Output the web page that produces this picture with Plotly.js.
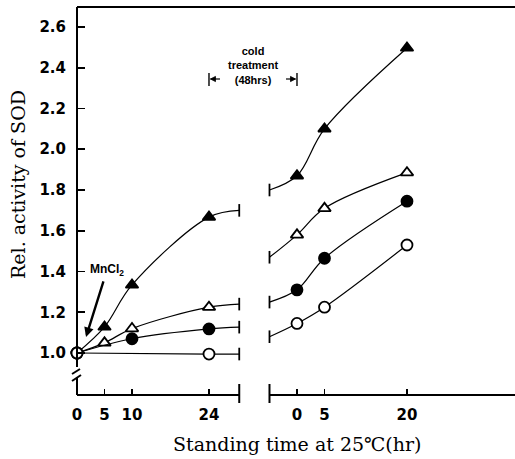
<!DOCTYPE html>
<html><head><meta charset="utf-8">
<script src="https://cdn.plot.ly/plotly-3.0.1.min.js"></script>
<style>html,body{margin:0;padding:0;background:#fff}#chart{width:515px;height:459px}</style>
</head><body><div id="chart"></div>
<script>
// ---- data ----
const leftTickHours = [0, 5, 10, 24];
const rightTickHours = [0, 5, 20];
const coldOffset = 40;          // axis position of hour 0 after the cold treatment
const yTickValues = [1.0, 1.2, 1.4, 1.6, 1.8, 2.0, 2.2, 2.4, 2.6];
const yTickLabels = ["1.0", "1.2", "1.4", "1.6", "1.8", "2.0", "2.2", "2.4", "2.6"];

const lineEndBefore = 29.5;     // hours where the pre-treatment curves stop
const lineEndAfter = -5;        // hours where the post-treatment curves start
const coldStart = 24, coldEnd = 40;

const beforeFilledTriX = [0, 5, 10, 24, 29.5];
const beforeFilledTriY = [1.0, 1.128, 1.334, 1.667, 1.70];
const beforeOpenTriX = [0, 5, 10, 24, 29.5];
const beforeOpenTriY = [1.0, 1.05, 1.12, 1.225, 1.24];
const beforeFilledCircX = [0, 10, 24, 29.5];
const beforeFilledCircY = [1.0, 1.07, 1.118, 1.127];
const beforeOpenCircX = [0, 24, 29.5];
const beforeOpenCircY = [1.0, 0.995, 0.995];

const afterX = [-5, 0, 5, 20];
const afterFilledTriY = [1.80, 1.87, 2.10, 2.497];
const afterOpenTriY = [1.47, 1.58, 1.71, 1.885];
const afterFilledCircY = [1.25, 1.31, 1.465, 1.745];
const afterOpenCircY = [1.08, 1.145, 1.225, 1.53];

// ---- geometry helpers (plot area: x 77..515, y 7..395) ----
const PL = 77, PR = 515, PT = 7, PB = 395;
const Y0 = 0.794, Y1 = 2.698, xMax = 79.64;
const px2x = p => (p - PL) / (PR - PL);
const px2y = p => (PB - p) / (PB - PT);
const pxPerHour = (PR - PL) / xMax;
const pxPerUnit = (PB - PT) / (Y1 - Y0);
const pyVal = p => Y0 + (PB - p) / pxPerUnit;

function mk(hours, ys, sym, filled, isAfter) {
  const isEnd = (h) => isAfter ? h === lineEndAfter : h === lineEndBefore;
  const isOrigin = (h) => !isAfter && h === 0;
  const symbols = hours.map(h => isEnd(h) ? 'line-ns' : (isOrigin(h) ? 'circle' : sym));
  const sizes = hours.map(h => isEnd(h) ? 9 : 11);
  const colors = hours.map(h => isEnd(h) ? 'black' : (isOrigin(h) ? 'white' : (filled ? 'black' : 'white')));
  return {
    x: hours.map(h => isAfter ? h + coldOffset : h),
    y: ys, type: 'scatter', mode: 'lines+markers', cliponaxis: false, hoverinfo: 'skip',
    line: {shape: 'spline', smoothing: 1, color: 'black', width: 1.2},
    marker: {symbol: symbols, size: sizes, color: colors, opacity: 1, line: {color: 'black', width: 1.8}}
  };
}

const traces = [
  mk(beforeFilledTriX, beforeFilledTriY, 'triangle-up', true, false),
  mk(beforeOpenTriX, beforeOpenTriY, 'triangle-up', false, false),
  mk(beforeFilledCircX, beforeFilledCircY, 'circle', true, false),
  mk(beforeOpenCircX, beforeOpenCircY, 'circle', false, false),
  mk(afterX, afterFilledTriY, 'triangle-up', true, true),
  mk(afterX, afterOpenTriY, 'triangle-up', false, true),
  mk(afterX, afterFilledCircY, 'circle', true, true),
  mk(afterX, afterOpenCircY, 'circle', false, true)
];

const ln = (x0, y0, x1, y1, w, xref) => ({type: 'line', xref: xref || 'paper', yref: 'paper',
  x0: x0, y0: y0, x1: x1, y1: y1, line: {color: 'black', width: w || 2}});

// bracket "|<-   ->|" for the cold treatment
const bracketPy = 79;
const bY = pyVal(bracketPy);
const hx = 5 / pxPerHour, hy = 2.6 / pxPerUnit, armX = 11 / pxPerHour, gapX = 1.5 / pxPerHour;
function arrowHead(tipX, dir) {
  const bx = tipX + dir * hx;
  return {type: 'path', xref: 'x', yref: 'y', fillcolor: 'black', line: {color: 'black', width: 0.8},
    path: `M${tipX},${bY} L${bx},${bY + hy} L${bx},${bY - hy} Z`};
}

const shapes = [
  ln(0, 1, 1, 1, 2),
  ln(0, 1, 0, px2y(367), 2),
  ln(px2x(72), px2y(374), px2x(80), px2y(369), 2),
  ln(px2x(72), px2y(381), px2x(81), px2y(375), 2),
  ln(0, px2y(377), 0, 0, 2),
  ln(0, 0, lineEndBefore, 0, 2, 'x'),
  ln(lineEndBefore, px2y(384), lineEndBefore, px2y(403), 2, 'x'),
  ln(lineEndAfter + coldOffset, px2y(384), lineEndAfter + coldOffset, px2y(403), 2, 'x'),
  ln(lineEndAfter + coldOffset, 0, xMax, 0, 2, 'x'),
  ln(coldStart, px2y(73), coldStart, px2y(86), 1.4, 'x'),
  ln(coldEnd, px2y(73), coldEnd, px2y(86), 1.4, 'x'),
  {type: 'line', xref: 'x', yref: 'y', x0: coldStart + gapX, y0: bY, x1: coldStart + armX, y1: bY, line: {color: 'black', width: 1.2}},
  {type: 'line', xref: 'x', yref: 'y', x0: coldEnd - armX, y0: bY, x1: coldEnd - gapX, y1: bY, line: {color: 'black', width: 1.2}},
  arrowHead(coldStart + gapX, 1),
  arrowHead(coldEnd - gapX, -1)
];

const annotations = [
  {xref: 'x', yref: 'y', x: (coldStart + coldEnd) / 2, y: pyVal(65), showarrow: false,
   xanchor: 'center', yanchor: 'middle',
   text: 'cold<br>treatment<br>(48hrs)', font: {family: 'Liberation Sans, Arial', size: 11, weight: 'bold', color: 'black'}},
  {xref: 'x', yref: 'y', x: 1.64, y: pyVal(337), ax: 21, ay: -67, showarrow: true,
   arrowhead: 2, arrowsize: 0.8, arrowwidth: 2.4, arrowcolor: 'black', standoff: 0, startstandoff: 2,
   text: 'MnCl<sub>2</sub>', font: {family: 'Liberation Sans, Arial', size: 12, weight: 'bold', color: 'black'}},
  {xref: 'paper', yref: 'paper', x: px2x(18), y: px2y(185), showarrow: false, textangle: -90,
   xanchor: 'center', yanchor: 'middle',
   text: 'Rel. activity of SOD', font: {family: 'DejaVu Serif', size: 19, color: 'black'}},
  {xref: 'paper', yref: 'paper', x: px2x(297), y: px2y(444), showarrow: false,
   xanchor: 'center', yanchor: 'middle',
   text: 'Standing time at 25℃(hr)', font: {family: 'DejaVu Serif', size: 19, color: 'black'}}
];

const layout = {
  width: 515, height: 459,
  margin: {l: PL, r: 0, t: PT, b: 459 - PB, pad: 0},
  paper_bgcolor: 'white', plot_bgcolor: 'white', showlegend: false,
  xaxis: {range: [0, xMax], showgrid: false, zeroline: false, showline: false,
    tickmode: 'array',
    tickvals: leftTickHours.concat(rightTickHours.map(h => h + coldOffset)),
    ticktext: leftTickHours.map(String).concat(rightTickHours.map(String)),
    ticks: 'inside', ticklen: 6, tickwidth: 1.6, tickcolor: 'black',
    ticklabelstandoff: 9,
    tickfont: {family: 'DejaVu Sans', size: 15, weight: 'bold', color: 'black'}},
  yaxis: {range: [Y0, Y1], showgrid: false, zeroline: false, showline: false,
    tickmode: 'array', tickvals: yTickValues, ticktext: yTickLabels,
    ticks: 'inside', ticklen: 8, tickwidth: 1.6, tickcolor: 'black',
    ticklabelstandoff: 10,
    tickfont: {family: 'DejaVu Sans', size: 15, weight: 'bold', color: 'black'}},
  shapes: shapes, annotations: annotations
};

Plotly.newPlot('chart', traces, layout, {staticPlot: true, displayModeBar: false});
</script></body></html>
